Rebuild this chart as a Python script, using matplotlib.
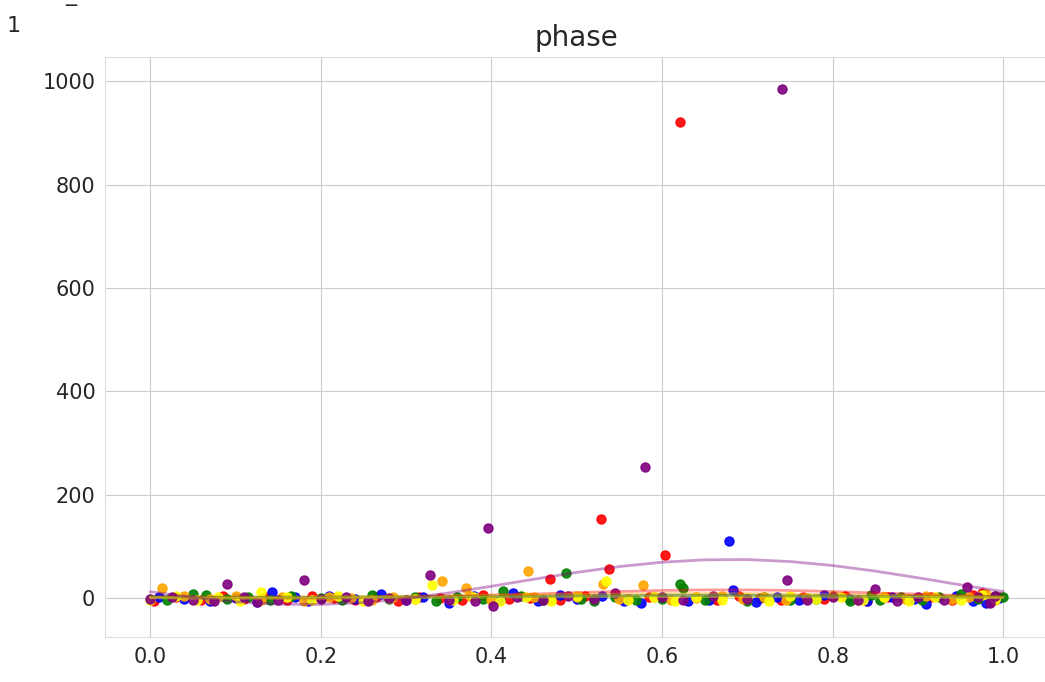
import numpy as np
import matplotlib
matplotlib.use('Agg')
import matplotlib.pyplot as plt
import seaborn as sns

# scatter data (phase, value) per colour
red_x = [0.005, 0.03, 0.06, 0.085, 0.11, 0.135, 0.16, 0.19, 0.215, 0.24, 0.265, 0.29, 0.315, 0.34,
         0.365, 0.39, 0.42, 0.445, 0.469, 0.48, 0.51, 0.529, 0.538, 0.56, 0.585, 0.603, 0.621, 0.64,
         0.665, 0.69, 0.715, 0.74, 0.765, 0.79, 0.815, 0.84, 0.865, 0.89, 0.915, 0.94, 0.965, 0.975,
         0.985, 0.995]
red_y = [-5, 2, -3, 4, -2, 3, -4, 5, 1, -3, 2, -6, 3, 0,
         -4, 6, -2, 1, 37, -3, 4, 153, 56, -2, 3, 83, 920, 2,
         -3, 5, 0, -4, 3, -1, 4, -5, 2, -2, 3, -3, 6, 10,
         -8, 2]

blue_x = [0.01, 0.04, 0.07, 0.1, 0.125, 0.143, 0.17, 0.185, 0.21, 0.24, 0.27, 0.3, 0.32, 0.35,
          0.38, 0.41, 0.425, 0.455, 0.48, 0.5, 0.53, 0.555, 0.575, 0.6, 0.63, 0.655, 0.679, 0.683,
          0.71, 0.735, 0.76, 0.79, 0.82, 0.84, 0.87, 0.895, 0.91, 0.945, 0.965, 0.98, 0.995]
blue_y = [3, -2, -5, 1, -8, 12, 3, -6, 4, -2, 8, -4, 2, -9,
          5, -3, 10, -5, 7, -2, 4, -6, -10, 3, -5, -3, 110, 15,
          -8, 2, -4, 6, -1, -6, 3, -2, -12, 4, -5, -10, 0]

green_x = [0.02, 0.05, 0.065, 0.09, 0.115, 0.14, 0.165, 0.2, 0.225, 0.26, 0.28, 0.31, 0.335, 0.36,
           0.39, 0.413, 0.435, 0.46, 0.487, 0.505, 0.52, 0.545, 0.57, 0.6, 0.621, 0.625, 0.65, 0.7,
           0.72, 0.75, 0.78, 0.8, 0.82, 0.845, 0.855, 0.88, 0.905, 0.925, 0.95, 0.97, 0.99, 1.0]
green_y = [-3, 8, 6, -2, 2, -4, 5, 1, -3, 6, -2, 3, -5, 2,
           -1, 14, 4, -3, 48, -2, -6, 3, -4, -2, 27, 20, -3, -6,
           2, -4, -1, 4, -5, 7, -3, 2, -4, 3, 8, -2, 5, 2]

orange_x = [0.014, 0.04, 0.07, 0.1, 0.13, 0.155, 0.18, 0.21, 0.235, 0.26, 0.285, 0.31, 0.342, 0.37,
            0.375, 0.4, 0.443, 0.45, 0.47, 0.5, 0.531, 0.55, 0.578, 0.59, 0.61, 0.64, 0.67, 0.695,
            0.72, 0.745, 0.77, 0.8, 0.83, 0.86, 0.885, 0.91, 0.94, 0.96, 0.98, 0.99]
orange_y = [19, 4, -2, 5, -3, 2, -5, 3, 0, -4, 2, -2, 33, 20,
            4, -3, 52, 2, -4, 3, 28, -2, 25, 2, -3, 1, 4, -2,
            3, -4, 1, 5, -3, 2, -2, 4, -1, 3, 8, -3]

yellow_x = [0.0, 0.03, 0.055, 0.08, 0.105, 0.13, 0.16, 0.19, 0.22, 0.25, 0.28, 0.31, 0.33, 0.355,
            0.38, 0.41, 0.44, 0.47, 0.5, 0.534, 0.56, 0.59, 0.615, 0.64, 0.67, 0.7, 0.725, 0.75,
            0.78, 0.81, 0.835, 0.86, 0.89, 0.92, 0.95, 0.975, 0.99]
yellow_y = [-3, 5, -4, 3, -6, 12, 2, -3, 4, -5, 1, -2, 25, -4,
            3, -6, 2, -5, 4, 33, -3, 2, -5, 3, -4, 1, -6, 4,
            -2, 3, -4, 2, -5, 3, -3, 6, -2]

purple_x = [0.0, 0.025, 0.05, 0.075, 0.09, 0.11, 0.125, 0.15, 0.18, 0.2, 0.23, 0.255, 0.28, 0.3,
            0.328, 0.35, 0.381, 0.396, 0.402, 0.43, 0.46, 0.49, 0.52, 0.545, 0.58, 0.6, 0.625, 0.66,
            0.7, 0.741, 0.747, 0.77, 0.8, 0.83, 0.85, 0.875, 0.9, 0.93, 0.958, 0.97, 0.985, 0.99]
purple_y = [-2, 3, -4, -6, 27, 2, -7, -3, 35, -2, 3, -5, 1, -4,
            45, -3, -6, 136, -15, 3, -4, 5, -2, 10, 254, 2, -3, 4,
            -2, 985, 35, -3, 2, -4, 17, -6, 3, -4, 21, 2, -10, 5]

# fitted curves, read at phase steps
fit_x = [0.0, 0.05, 0.1, 0.15, 0.2, 0.25, 0.3, 0.35, 0.4, 0.45, 0.5,
         0.55, 0.6, 0.65, 0.7, 0.75, 0.8, 0.85, 0.9, 0.95, 1.0]
purple_fit = [12.5, 1.4, -7.0, -11.6, -12.1, -8.3, -0.6, 10.2, 23.1, 36.8, 49.9,
              61.2, 69.6, 74.2, 74.7, 70.9, 63.2, 52.4, 39.5, 25.8, 12.7]
red_fit = [3, 2, 1, 0, 0, 1, 2, 4, 6, 8, 11, 13, 15, 16, 16, 15, 13, 10, 8, 5, 3]
orange_fit = [2, 2, 2, 2, 3, 3, 4, 5, 6, 7, 8, 8, 9, 9, 9, 8, 7, 6, 5, 4, 2]
green_fit = [3, 2, 2, 2, 2, 3, 3, 3, 4, 4, 5, 5, 6, 6, 6, 5, 5, 4, 4, 3, 3]
blue_fit = [2, 1, 1, 1, 1, 1, 2, 2, 3, 3, 4, 4, 5, 5, 5, 4, 4, 3, 3, 2, 2]
yellow_fit = [1, 0, 0, 0, 0, 1, 1, 1, 2, 2, 3, 3, 3, 3, 3, 3, 2, 2, 2, 1, 1]

series = [
    (red_x, red_y, red_fit, 'red'),
    (blue_x, blue_y, blue_fit, 'blue'),
    (green_x, green_y, green_fit, 'green'),
    (orange_x, orange_y, orange_fit, 'orange'),
    (yellow_x, yellow_y, yellow_fit, 'yellow'),
    (purple_x, purple_y, purple_fit, 'purple'),
]

sns.set_style('whitegrid')
plt.rcParams['font.family'] = ['DejaVu Sans']

fig = plt.figure(figsize=(10.45, 6.82), dpi=100)
ax = fig.add_axes([0.1005, 0.066, 0.902, 0.850])

for xs, ys, fit, c in series:
    ax.plot(xs, ys, 'o', color=c, markersize=6.5, alpha=0.9, zorder=3)

for xs, ys, fit, c in series:
    ax.plot(fit_x, fit, '-', color=c, linewidth=2, alpha=0.4, zorder=4)

ax.set_xlim(-0.053, 1.052)
ax.set_ylim(-75, 1046)
ax.set_xticks([0.0, 0.2, 0.4, 0.6, 0.8, 1.0])
ax.set_yticks([0, 200, 400, 600, 800, 1000])
ax.tick_params(labelsize=15, colors='.15')
ax.set_title('phase', fontsize=20, color='.15', pad=8)
for s in ax.spines.values():
    s.set_color('#dddddd')

fig.text(0.006, 0.962, '1', fontsize=16, color='.15', va='center')
fig.text(0.062, 0.998, '_', fontsize=16, color='.15', va='baseline')

fig.savefig('out.png', dpi=100)
